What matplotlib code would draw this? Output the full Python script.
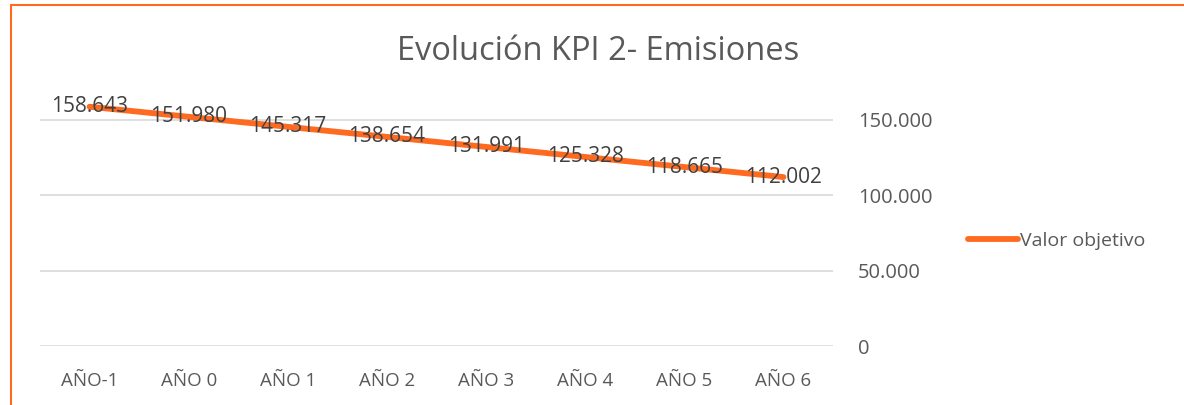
import matplotlib.pyplot as plt
from matplotlib.patches import Rectangle

# data
years = ["AÑO-1", "AÑO 0", "AÑO 1", "AÑO 2", "AÑO 3", "AÑO 4", "AÑO 5", "AÑO 6"]
valor_objetivo = [158643, 151980, 145317, 138654, 131991, 125328, 118665, 112002]
y_ticks = [0, 50000, 100000, 150000]

orange = "#FF6A21"
grey_txt = "#595959"

plt.rcParams["font.family"] = ["Open Sans", "DejaVu Sans"]

W, H = 1184, 405
fig = plt.figure(figsize=(W / 100, H / 100), dpi=100)

# orange chart border (right and bottom edges run off the picture)
fig.patches.append(Rectangle((11 / W, -0.1), 1.2, 1 - 5 / H + 0.1, transform=fig.transFigure,
                             fill=False, edgecolor=orange, linewidth=1.5))

left, right, bottom, top = 40, 833, 346, 70
ax = fig.add_axes([left / W, (H - bottom) / H, (right - left) / W, (bottom - top) / H])

x = range(len(years))
line, = ax.plot(x, valor_objetivo, color=orange, linewidth=4.2, solid_capstyle="round",
                label="Valor objetivo")

for xi, v in zip(x, valor_objetivo):
    ax.text(xi, v, f"{v:,}".replace(",", "."), ha="center", va="center",
            fontsize=15, color="#404040")

ax.set_xlim(-0.5, len(years) - 0.5)
ax.set_ylim(0, 183000)
ax.set_xticks(list(x))
ax.set_xticklabels(years)
ax.set_yticks(y_ticks)
ax.set_yticklabels([f"{t:,}".replace(",", ".") for t in y_ticks])
ax.yaxis.tick_right()
ax.tick_params(axis="y", length=0, pad=18, labelsize=14.5, labelcolor=grey_txt)
ax.tick_params(axis="x", length=0, pad=19, labelsize=13.5, labelcolor=grey_txt)
for lbl in ax.get_yticklabels():
    lbl.set_horizontalalignment("left")
ax.grid(axis="y", color="#D9D9D9", linewidth=1.2)
ax.set_axisbelow(True)
for s in ax.spines.values():
    s.set_visible(False)

fig.text(598 / W, 1 - 52 / H, "Evolución KPI 2- Emisiones", ha="center", va="center",
         fontsize=23.5, color=grey_txt)

fig.legend(handles=[line], loc="center left", bbox_to_anchor=(950 / W, 1 - 241 / H),
           frameon=False, fontsize=14, handlelength=2.6, handletextpad=0.1,
           labelcolor=grey_txt)

fig.savefig("out.png", dpi=100)
